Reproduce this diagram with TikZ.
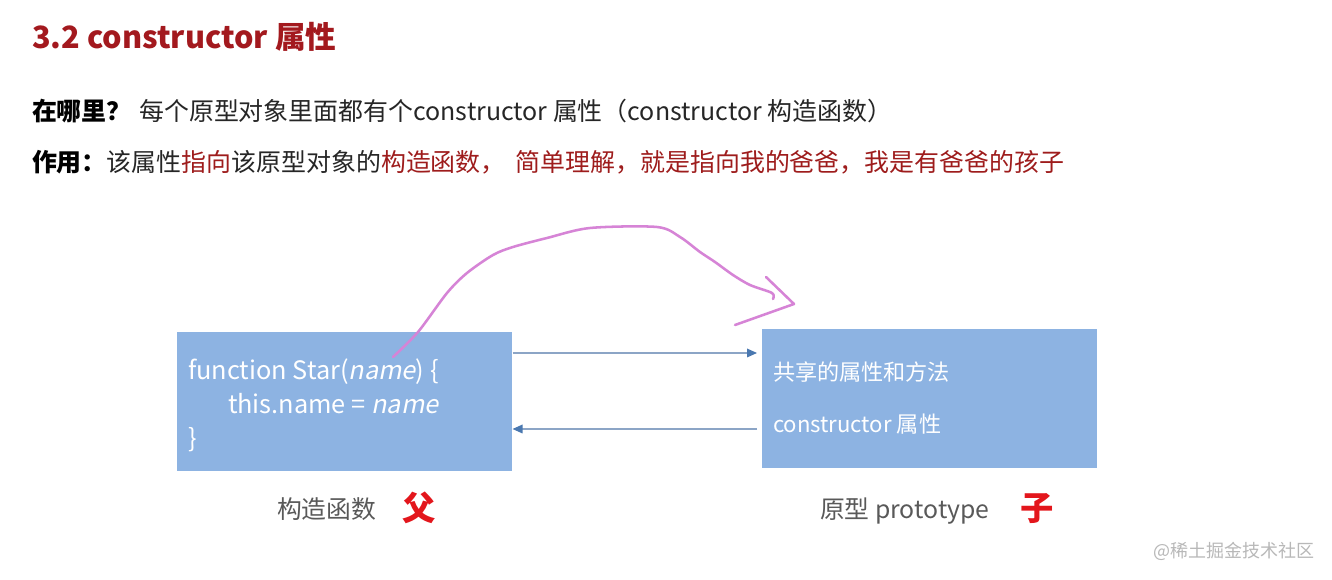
\documentclass[tikz,border=0pt]{standalone}
\usepackage{fontspec}
\setmainfont{Noto Sans CJK SC}[ItalicFont={Noto Sans CJK SC},ItalicFeatures={FakeSlant=0.2}]
\usetikzlibrary{arrows.meta}
\definecolor{titlered}{HTML}{A3191E}
\definecolor{darkred}{HTML}{9E1C1C}
\definecolor{textgray}{HTML}{262626}
\definecolor{boxblue}{HTML}{8DB3E2}
\definecolor{arrowline}{HTML}{8CA5C6}
\definecolor{arrowhd}{HTML}{4A78B0}
\definecolor{labelgray}{HTML}{595959}
\definecolor{brightred}{HTML}{E3161C}
\definecolor{penpink}{HTML}{D684D6}
\definecolor{wmgray}{HTML}{B8B8B8}
\tikzset{
  txt/.style={anchor=base west, inner sep=0pt, outer sep=0pt},
  bluebox/.style={fill=boxblue, draw=none, anchor=north west, inner sep=0pt,
    minimum width=251.25pt, minimum height=104.25pt},
  conn/.style={draw=arrowline, line width=0.9pt,
    -{Triangle[length=7.5pt,width=6.5pt,color=arrowhd]}},
  pen/.style={draw=penpink, line width=1.9pt, line cap=round, line join=round},
}
\begin{document}
\begin{tikzpicture}[x=0.75pt,y=-0.75pt]
\fill[white] (0,0) rectangle (1332,580);
\useasboundingbox (0,0) rectangle (1332,580);

% title and text lines
\node[txt, text=titlered, font=\fontsize{23}{28}\selectfont\bfseries] (title) at (32,49) {3.2 constructor 属性};
\node[txt, text=textgray, font=\fontsize{18.7}{22}\selectfont] (where) at (32,121)
  {\textbf{\color{black}在哪里？}\hspace{0.3em}每个原型对象里面都有个constructor 属性（constructor 构造函数）};
\node[txt, text=textgray, font=\fontsize{18.7}{22}\selectfont] (use) at (32,172)
  {\textbf{\color{black}作用：}该属性{\color{darkred}指向}该原型对象的{\color{darkred}构造函数，\hspace{0.4em}简单理解，就是指向我的爸爸，我是有爸爸的孩子}};

% boxes
\node[bluebox] (L) at (177,332) {};
\node[bluebox] (R) at (762,329) {};

\node[txt, text=white, font=\fontsize{19}{23}\selectfont] (l1) at (188,380) {function Star(\textit{name}) \{};
\node[txt, text=white, font=\fontsize{19}{23}\selectfont] (l2) at (228,414) {this.name = \textit{name}};
\node[txt, text=white, font=\fontsize{19}{23}\selectfont] (l3) at (188,448) {\}};

\node[txt, text=white, font=\fontsize{16.6}{20}\selectfont] (r1) at (773,381) {共享的属性和方法};
\node[txt, text=white, font=\fontsize{16.6}{20}\selectfont] (r2) at (773,433) {constructor 属性};

% connectors
\draw[conn, shorten >=3.75pt] (L.east |- 0,353) -- (R.west |- 0,353);
\draw[conn, shorten <=3.75pt] (R.west |- 0,429) -- (L.east |- 0,429);

% labels
\node[txt, text=labelgray, font=\fontsize{18.6}{22}\selectfont] (lab1) at (277,519) {构造函数};
\node[txt, text=brightred, font=\fontsize{25}{30}\selectfont\bfseries] (fu) at (402,521) {父};
\node[txt, text=labelgray, font=\fontsize{18.6}{22}\selectfont] (lab2) at (820,519) {原型 prototype};
\node[txt, text=brightred, font=\fontsize{25}{30}\selectfont\bfseries] (zi) at (1020,521) {子};

% watermark
\node[txt, text=wmgray, font=\fontsize{13.5}{16}\selectfont] (wm) at (1153,558) {@稀土掘金技术社区};

% freehand pink arrow
\draw[pen] plot[smooth, tension=0.5] coordinates {(393,357) (418,332) (447,293) (467,273) (493,255) (513,247) (547,238) (590,228) (657,227) (680,237) (700,252) (715,262) (733,275) (750,285) (772,293) (773,299)};
\draw[pen] (766,277) -- (794,304) -- (735,325);
\end{tikzpicture}
\end{document}
